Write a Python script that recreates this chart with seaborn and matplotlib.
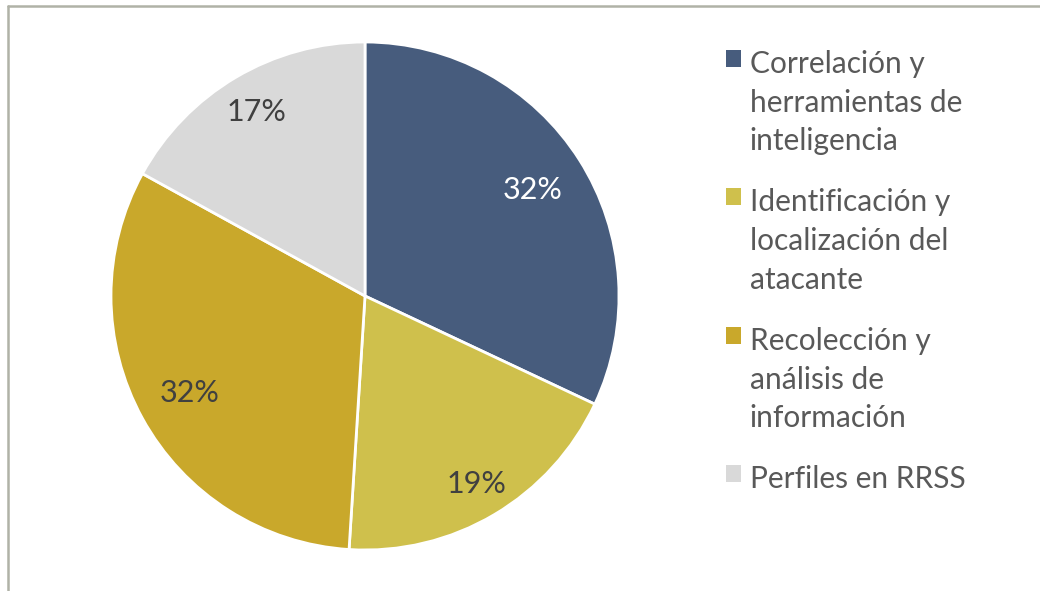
import matplotlib
matplotlib.use("Agg")
import matplotlib.pyplot as plt
import seaborn as sns
import numpy as np
from matplotlib.lines import Line2D
from matplotlib.patches import Patch

# Data
categories = [
    "Correlación y\nherramientas de\ninteligencia",
    "Identificación y\nlocalización del\natacante",
    "Recolección y\nanálisis de\ninformación",
    "Perfiles en RRSS",
]
shares = [32, 19, 32, 17]
colors = ["#475C7D", "#CFC04C", "#C9A82B", "#D9D9D9"]
label_colors = ["white", "#404040", "#404040", "#404040"]
label_radius = [0.78, 0.86, 0.79, 0.84]  # Excel "best fit" label distances

sns.set_theme(style="white")
plt.rcParams["font.family"] = ["Lato", "DejaVu Sans"]

fig = plt.figure(figsize=(10.4, 5.91), dpi=100)

# pie axes: centre ~ (365, 296) px, radius ~253 px
W, H = 1040, 591
cx, cy, r = 365, 296, 254
ax = fig.add_axes([(cx - r) / W, (H - cy - r) / H, 2 * r / W, 2 * r / H])

wedges, texts, autotexts = ax.pie(
    shares, colors=colors, startangle=90, counterclock=False,
    autopct=lambda p: f"{p:.0f}%", pctdistance=0.8,
    wedgeprops=dict(edgecolor="white", linewidth=2, clip_on=False),
    textprops=dict(fontsize=22),
)
for w, t, c, d in zip(wedges, autotexts, label_colors, label_radius):
    t.set_color(c)
    ang = np.deg2rad((w.theta1 + w.theta2) / 2)
    t.set_position((d * np.cos(ang), d * np.sin(ang)))
ax.set_xlim(-1, 1)
ax.set_ylim(-1, 1)
ax.set_aspect("equal")
ax.axis("off")

# legend
handles = [Patch(facecolor=c, edgecolor="none") for c in colors]
leg = fig.legend(
    handles, categories, loc="upper left", bbox_to_anchor=(699 / W, 1 - 23 / H),
    frameon=False, fontsize=21.5, handlelength=0.5, handleheight=0.5,
    handletextpad=0.3, labelspacing=1.1,
)
for t in leg.get_texts():
    t.set_color("#595959")
    t.set_linespacing(1.47)
for col in leg._legend_handle_box.get_children():
    for item in col.get_children():
        item.align = "top"

# chart border (top and left visible)
fig.add_artist(Line2D([8 / W, 1], [1 - 6 / H, 1 - 6 / H], color="#B0B2A7", lw=1.8))
fig.add_artist(Line2D([8 / W, 8 / W], [0, 1 - 6 / H], color="#B0B2A7", lw=1.8))

fig.savefig("out.png", dpi=100, facecolor="white")
